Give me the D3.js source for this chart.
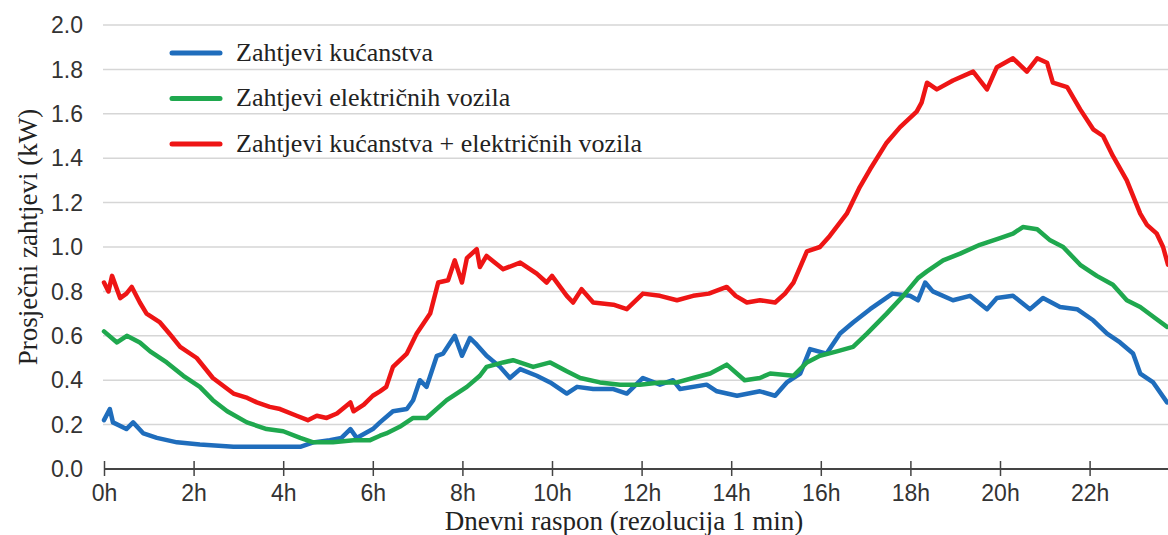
<!DOCTYPE html>
<html>
<head>
<meta charset="utf-8">
<script src="https://cdn.jsdelivr.net/npm/d3@7"></script>
</head>
<body style="margin:0">
<div id="vis"></div>
<script>
// frame size
const WIDTH = 1168;
const HEIGHT = 535;
const MARG = {left: 104, top: 25, bottom: 66};

// data (hour of day, kW)
const SERIES_NAMES = ["Zahtjevi kućanstva", "Zahtjevi električnih vozila", "Zahtjevi kućanstva + električnih vozila"];
const SERIES_COLORS = ["#1f6dbc", "#1fa84e", "#ee1515"];

const HOUSE_H = [0, 0.13, 0.2, 0.5, 0.65, 0.88, 1.18, 1.63, 2.14, 2.89, 3.63, 4.38, 4.67, 5.04, 5.3, 5.5, 5.64, 6.0, 6.16, 6.45,
  6.76, 6.9, 7.05, 7.2, 7.43, 7.57, 7.83, 7.99, 8.17, 8.32, 8.54, 8.84, 9.06, 9.29, 9.66, 9.96, 10.33, 10.56, 10.92, 11.37,
  11.67, 12.03, 12.41, 12.7, 12.86, 13.45, 13.68, 14.13, 14.64, 14.98, 15.24, 15.54, 15.76, 16.13, 16.43, 16.72, 17.1, 17.6, 17.99, 18.17,
  18.33, 18.5, 18.95, 19.33, 19.71, 19.93, 20.29, 20.67, 20.96, 21.34, 21.72, 22.08, 22.39, 22.68, 22.97, 23.13, 23.42, 23.73];
const HOUSE_V = [0.22, 0.27, 0.21, 0.18, 0.21, 0.16, 0.14, 0.12, 0.11, 0.10, 0.10, 0.10, 0.12, 0.13, 0.14, 0.18, 0.14, 0.18, 0.21, 0.26,
  0.27, 0.31, 0.40, 0.37, 0.51, 0.52, 0.60, 0.51, 0.59, 0.56, 0.51, 0.46, 0.41, 0.45, 0.42, 0.39, 0.34, 0.37, 0.36, 0.36,
  0.34, 0.41, 0.38, 0.40, 0.36, 0.38, 0.35, 0.33, 0.35, 0.33, 0.39, 0.43, 0.54, 0.52, 0.61, 0.66, 0.72, 0.79, 0.78, 0.76,
  0.84, 0.80, 0.76, 0.78, 0.72, 0.77, 0.78, 0.72, 0.77, 0.73, 0.72, 0.67, 0.61, 0.57, 0.52, 0.43, 0.39, 0.30];

const EV_H = [0, 0.29, 0.51, 0.8, 1.03, 1.4, 1.77, 2.14, 2.43, 2.75, 3.19, 3.63, 4.0, 4.38, 4.67, 5.11, 5.57, 5.94, 6.16, 6.3,
  6.6, 6.9, 7.2, 7.65, 8.1, 8.39, 8.54, 8.91, 9.13, 9.58, 9.96, 10.33, 10.63, 11.07, 11.52, 11.96, 12.41, 12.79, 13.15, 13.53,
  13.9, 14.3, 14.64, 14.87, 15.39, 15.69, 15.98, 16.36, 16.72, 17.03, 17.47, 17.84, 18.17, 18.37, 18.73, 19.11, 19.55, 20.0, 20.29, 20.51,
  20.83, 21.12, 21.41, 21.79, 22.16, 22.52, 22.83, 23.13, 23.46, 23.73];
const EV_V = [0.62, 0.57, 0.60, 0.57, 0.53, 0.48, 0.42, 0.37, 0.31, 0.26, 0.21, 0.18, 0.17, 0.14, 0.12, 0.12, 0.13, 0.13, 0.15, 0.16,
  0.19, 0.23, 0.23, 0.31, 0.37, 0.42, 0.46, 0.48, 0.49, 0.46, 0.48, 0.44, 0.41, 0.39, 0.38, 0.38, 0.39, 0.39, 0.41, 0.43,
  0.47, 0.40, 0.41, 0.43, 0.42, 0.48, 0.51, 0.53, 0.55, 0.61, 0.70, 0.78, 0.86, 0.89, 0.94, 0.97, 1.01, 1.04, 1.06, 1.09,
  1.08, 1.03, 1.00, 0.92, 0.87, 0.83, 0.76, 0.73, 0.68, 0.64];

const TOTAL_H = [0, 0.1, 0.18, 0.36, 0.5, 0.62, 0.8, 0.95, 1.25, 1.5, 1.7, 2.07, 2.43, 2.89, 3.2, 3.41, 3.7, 3.93, 4.3, 4.55,
  4.75, 4.97, 5.2, 5.5, 5.57, 5.8, 6.0, 6.16, 6.3, 6.45, 6.76, 6.98, 7.28, 7.46, 7.68, 7.83, 7.99, 8.1, 8.32, 8.39,
  8.54, 8.91, 9.29, 9.66, 9.88, 10.0, 10.33, 10.47, 10.66, 10.92, 11.37, 11.67, 12.03, 12.41, 12.79, 13.15, 13.5, 13.9, 14.1, 14.35,
  14.64, 14.98, 15.2, 15.39, 15.69, 15.98, 16.2, 16.58, 16.87, 17.1, 17.47, 17.77, 18.14, 18.25, 18.37, 18.59, 18.95, 19.4, 19.71, 19.93,
  20.29, 20.6, 20.83, 21.05, 21.18, 21.5, 21.79, 22.08, 22.3, 22.52, 22.83, 23.13, 23.28, 23.5, 23.64, 23.75];
const TOTAL_V = [0.84, 0.80, 0.87, 0.77, 0.79, 0.82, 0.75, 0.70, 0.66, 0.60, 0.55, 0.50, 0.41, 0.34, 0.32, 0.30, 0.28, 0.27, 0.24, 0.22,
  0.24, 0.23, 0.25, 0.30, 0.26, 0.29, 0.33, 0.35, 0.37, 0.46, 0.52, 0.61, 0.70, 0.84, 0.85, 0.94, 0.84, 0.95, 0.99, 0.91,
  0.96, 0.90, 0.93, 0.88, 0.84, 0.87, 0.78, 0.75, 0.81, 0.75, 0.74, 0.72, 0.79, 0.78, 0.76, 0.78, 0.79, 0.82, 0.78, 0.75,
  0.76, 0.75, 0.79, 0.84, 0.98, 1.00, 1.05, 1.15, 1.27, 1.35, 1.47, 1.54, 1.61, 1.65, 1.74, 1.71, 1.75, 1.79, 1.71, 1.81,
  1.85, 1.79, 1.85, 1.83, 1.74, 1.72, 1.62, 1.53, 1.50, 1.41, 1.30, 1.15, 1.10, 1.06, 1.00, 0.92];

const Y_TICKS = [0, 0.2, 0.4, 0.6, 0.8, 1.0, 1.2, 1.4, 1.6, 1.8, 2.0];
const X_TICKS = [0, 2, 4, 6, 8, 10, 12, 14, 16, 18, 20, 22];

const X_TITLE = "Dnevni raspon (rezolucija 1 min)";
const Y_TITLE = "Prosječni zahtjevi (kW)";

function zip(hs, vs) {
  return hs.map((h, i) => { return {h: h, v: vs[i]}; });
}
const SERIES = [zip(HOUSE_H, HOUSE_V), zip(EV_H, EV_V), zip(TOTAL_H, TOTAL_V)];

// serif is the default for the whole frame, the tick labels switch to sans
const FRAME = d3.select("#vis")
  .append("svg")
    .attr("width", WIDTH)
    .attr("height", HEIGHT)
    .attr("font-family", "Liberation Serif")
    .style("font-family", "'Liberation Serif'")
    .style("display", "block");

// the day runs past the right edge of the picture
const X_SCALE = d3.scaleLinear()
  .domain([0, 24])
  .range([MARG.left, MARG.left + 24 * 44.8]);
const Y_SCALE = d3.scaleLinear()
  .domain([0, 2])
  .range([HEIGHT - MARG.bottom, MARG.top]);

// horizontal grid
FRAME.append("g")
  .selectAll("line")
  .data(Y_TICKS.slice(1))
  .enter().append("line")
    .attr("x1", MARG.left - 1)
    .attr("x2", WIDTH)
    .attr("y1", (d) => Y_SCALE(d))
    .attr("y2", (d) => Y_SCALE(d))
    .attr("stroke", "#d6d6d6")
    .attr("stroke-width", 1.5);

// y labels, no axis line
FRAME.append("g")
  .selectAll("text")
  .data(Y_TICKS)
  .enter().append("text")
    .attr("x", MARG.left - 21)
    .attr("y", (d) => Y_SCALE(d))
    .attr("dy", "0.36em")
    .attr("text-anchor", "end")
    .attr("font-size", "23px")
    .style("font-family", "'Liberation Sans'")
    .attr("fill", "#333")
    .text((d) => d.toFixed(1));

// x axis
const xAxis = FRAME.append("g")
  .attr("transform", "translate(0," + Y_SCALE(0) + ")")
  .call(d3.axisBottom(X_SCALE)
    .tickValues(X_TICKS)
    .tickFormat((d) => d + "h")
    .tickSizeInner(7)
    .tickSizeOuter(0)
    .tickPadding(9));
xAxis.select(".domain")
  .attr("d", "M" + MARG.left + ",0H" + WIDTH)
  .attr("stroke", "#444")
  .attr("stroke-width", 2);
xAxis.selectAll(".tick line")
  .attr("y1", -8)
  .attr("y2", 7)
  .attr("stroke", "#444")
  .attr("stroke-width", 1.5);
xAxis.selectAll(".tick text")
  .attr("font-size", "23px")
  .style("font-family", "'Liberation Sans'")
  .attr("fill", "#333");

// lines
const line = d3.line()
  .x((d) => X_SCALE(d.h))
  .y((d) => Y_SCALE(d.v));

FRAME.append("g")
  .selectAll("path")
  .data(SERIES)
  .enter().append("path")
    .attr("d", line)
    .attr("fill", "none")
    .attr("stroke", (d, i) => SERIES_COLORS[i])
    .attr("stroke-width", 4.5)
    .attr("stroke-linejoin", "round")
    .attr("stroke-linecap", "round");

// legend
const legend = FRAME.append("g")
  .selectAll("g")
  .data(SERIES_NAMES)
  .enter().append("g")
    .attr("transform", (d, i) => "translate(172," + (53 + i * 45.5) + ")");
legend.append("line")
  .attr("x1", 0)
  .attr("x2", 48)
  .attr("stroke", (d, i) => SERIES_COLORS[i])
  .attr("stroke-width", 5)
  .attr("stroke-linecap", "round");
legend.append("text")
  .attr("x", 64)
  .attr("dy", "0.3em")
  .attr("font-size", "26px")
  .attr("font-family", "Liberation Serif")
  .attr("fill", "#222")
  .text((d) => d);

// axis titles
FRAME.append("text")
  .attr("x", 624)
  .attr("y", 530)
  .attr("text-anchor", "middle")
  .attr("font-size", "27px")
  .attr("font-family", "Liberation Serif")
  .attr("fill", "#222")
  .text(X_TITLE);

FRAME.append("text")
  .attr("transform", "translate(37,237) rotate(-90)")
  .attr("text-anchor", "middle")
  .attr("font-size", "27px")
  .attr("font-family", "Liberation Serif")
  .attr("fill", "#222")
  .text(Y_TITLE);
</script>
</body>
</html>
